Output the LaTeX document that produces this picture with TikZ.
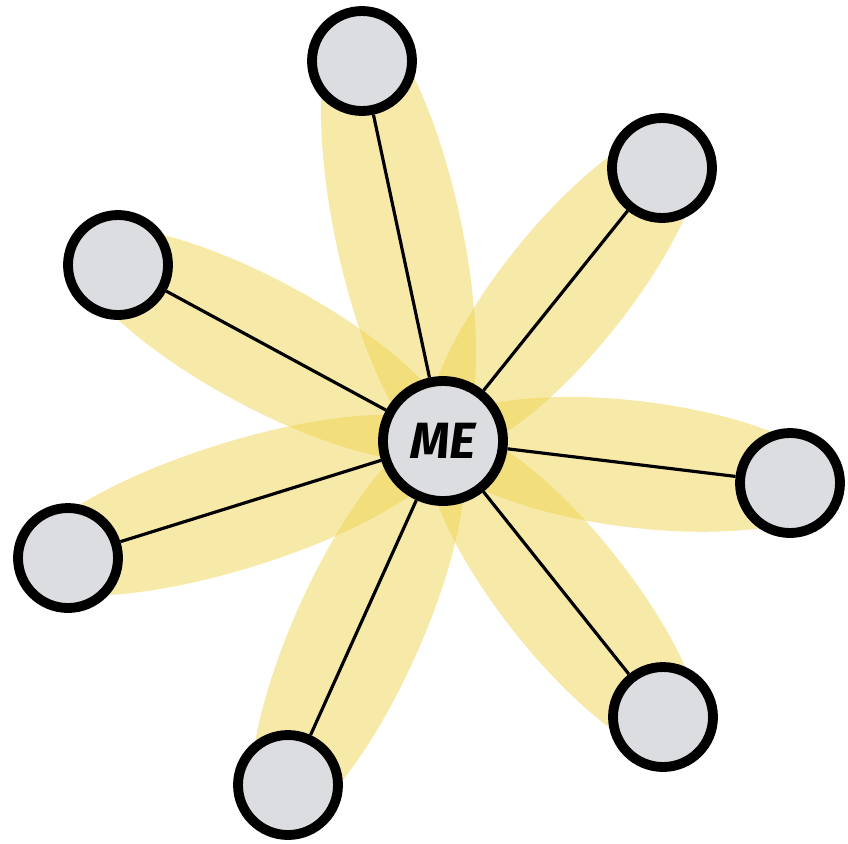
\documentclass[tikz,border=0pt]{standalone}
\usepackage{fontspec}
\setsansfont{Fira Sans}
\usetikzlibrary{calc,shapes.geometric,backgrounds}
\definecolor{petal}{RGB}{239,211,81}
\definecolor{nodegray}{HTML}{DCDDE0}
\tikzset{
  friend/.style={circle,draw=black,fill=nodegray,line width=5.6pt,
    minimum size=2.0cm,inner sep=0pt},
  menode/.style={friend,minimum size=2.4cm,
    font=\sffamily\bfseries\itshape\fontsize{29}{29}\selectfont},
  link/.style={draw=black,line width=1.8pt},
  petalshape/.style={ellipse,fill=petal,fill opacity=0.5,draw=none,
    minimum height=72pt,inner sep=0pt}
}
\begin{document}
\begin{tikzpicture}[x=0.02cm,y=-0.02cm]
  \useasboundingbox (0,0) rectangle (848,843);
  \node[menode] (me) at (443,441) {ME};
  \foreach \name/\px/\py in {n1/362/61,n2/662/168,n3/118/265,n4/790/483,
      n5/68/558,n6/663/717,n7/288/785}{
    \node[friend] (\name) at (\px,\py) {};
  }
  % petals behind everything
  \begin{scope}[on background layer]
    \foreach \name in {n1,n2,n3,n4,n5,n6,n7}{
      \path let \p1=($(\name)-(me)$), \n1={atan2(\y1,\x1)},
        \n2={veclen(\x1,\y1)} in
        node[petalshape,rotate=\n1,minimum width={\n2+34}]
          at ($(me)!0.5!(\name)!11pt!(\name)$) {};
    }
  \end{scope}
  % spokes
  \foreach \name in {n1,n2,n3,n4,n5,n6,n7}{
    \draw[link] (me) -- (\name);
  }
\end{tikzpicture}
\end{document}
